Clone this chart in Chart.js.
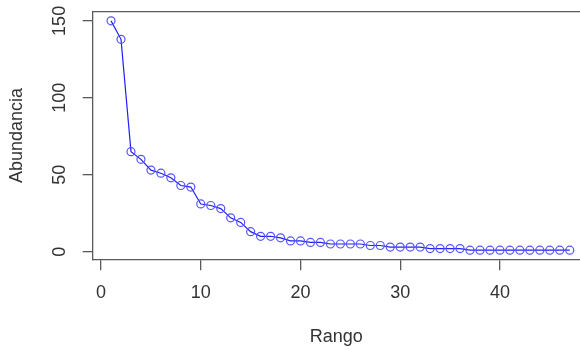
<!DOCTYPE html>
<html>
<head>
<meta charset="utf-8">
<script src="https://cdn.jsdelivr.net/npm/chart.js@4"></script>
<style>
html, body { margin: 0; padding: 0; background: #fff; overflow: hidden; }
#wrap { width: 580px; height: 350px; position: relative; }
</style>
</head>
<body>
<div id="wrap"><canvas id="c" width="580" height="350"></canvas></div>
<script>
const rango = [1,2,3,4,5,6,7,8,9,10,11,12,13,14,15,16,17,18,19,20,21,22,23,24,25,26,27,28,29,30,31,32,33,34,35,36,37,38,39,40,41,42,43,44,45,46,47];
const abundancia = [150,138,65,60,53,51,48,43,42,31,30,28,22,19,13,10,10,9,7,7,6,6,5,5,5,5,4,4,3,3,3,3,2,2,2,2,1,1,1,1,1,1,1,1,1,1,1];
const xTicks = [0,10,20,30,40];
const yTicks = [0,50,100,150];
const xTitle = 'Rango';
const yTitle = 'Abundancia';

const AXIS = '#5a5a5a';
const TEXT = '#333333';
const FONT = { family: '"Liberation Sans", Arial, sans-serif', size: 18 };

const topBorder = {
  id: 'topBorder',
  afterDraw(chart) {
    const { ctx, chartArea } = chart;
    ctx.save();
    ctx.strokeStyle = AXIS;
    ctx.lineWidth = 1.3;
    ctx.beginPath();
    ctx.moveTo(chartArea.left, chartArea.top);
    ctx.lineTo(chartArea.right, chartArea.top);
    ctx.stroke();
    ctx.restore();
  }
};

new Chart(document.getElementById('c'), {
  type: 'line',
  data: {
    datasets: [{
      data: rango.map((r, i) => ({ x: r, y: abundancia[i] })),
      borderColor: '#1f1fff',
      borderWidth: 1.2,
      pointRadius: 4,
      pointBorderColor: '#5555ff',
      pointBackgroundColor: 'rgba(0,0,0,0)',
      pointBorderWidth: 1.2,
      tension: 0,
      fill: false
    }]
  },
  options: {
    responsive: false,
    animation: false,
    events: [],
    layout: { autoPadding: false, padding: { top: 11.7, left: 0, right: 0, bottom: 0 } },
    plugins: { legend: { display: false }, tooltip: { enabled: false } },
    scales: {
      x: {
        type: 'linear',
        min: -0.84,
        max: 48.03,
        afterBuildTicks: s => { s.ticks = xTicks.map(v => ({ value: v })); },
        afterFit: s => { s.height = 90.7; s.paddingLeft = 0; s.paddingRight = 0; },
        grid: { display: true, drawOnChartArea: false, drawTicks: true, tickLength: 11, color: AXIS, lineWidth: 1.3 },
        border: { display: true, color: AXIS, width: 1.3 },
        ticks: { color: TEXT, font: FONT, padding: 12, maxRotation: 0, autoSkip: false },
        title: { display: true, text: xTitle, color: TEXT, font: FONT, padding: { top: 0, bottom: 2.2 } }
      },
      y: {
        type: 'linear',
        min: -4.96,
        max: 155.96,
        afterBuildTicks: s => { s.ticks = yTicks.map(v => ({ value: v })); },
        afterFit: s => { s.width = 92.7; s.paddingTop = 0; s.paddingBottom = 0; },
        grid: { display: true, drawOnChartArea: false, drawTicks: true, tickLength: 10, color: AXIS, lineWidth: 1.3 },
        border: { display: true, color: AXIS, width: 1.3 },
        ticks: { color: TEXT, font: FONT, padding: 7.7, minRotation: 90, maxRotation: 90, crossAlign: 'center', autoSkip: false },
        title: { display: true, text: yTitle, color: TEXT, font: FONT, padding: { top: 6.7, bottom: 0 } }
      }
    }
  },
  plugins: [topBorder]
});
</script>
</body>
</html>
